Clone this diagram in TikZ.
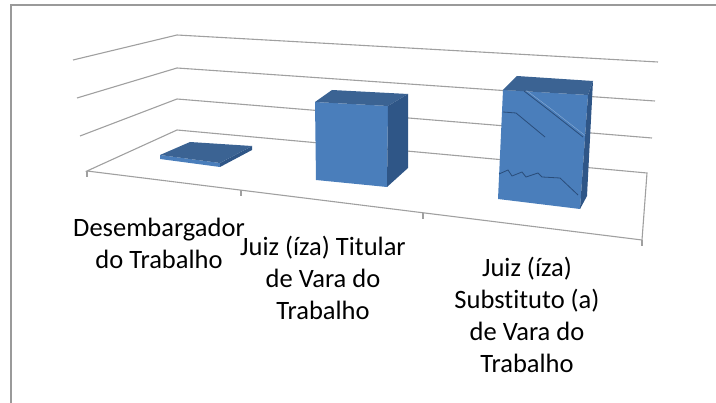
\documentclass[tikz,border=0pt]{standalone}
\usepackage{fontspec}
\setmainfont{Carlito}[Ligatures=NoCommon]
\usepackage{tikz}
\definecolor{gridgray}{HTML}{A0A0A0}
\definecolor{framegray}{HTML}{9A9A9A}
\definecolor{barfront}{HTML}{4A7EBB}
\definecolor{bartop}{HTML}{3B6393}
\definecolor{barside}{HTML}{2F5687}
\definecolor{barseam}{HTML}{2A4D7A}
\tikzset{
gridline/.style={draw=gridgray, line width=1.1pt},
frontface/.style={fill=barfront},
topface/.style={fill=bartop},
sideface/.style={fill=barside},
seam/.style={draw=barseam, line width=0.8pt},
catlabel/.style={align=center, anchor=north, inner sep=0pt,
    font=\fontsize{26.5}{32}\selectfont}}

\begin{document}
\begin{tikzpicture}[x=1pt,y=-1pt]

                \useasboundingbox (0,0) rectangle (716,403);
                \draw[framegray, line width=1.2pt] (11,403) -- (11,5) -- (716,5);

                % walls
                \foreach \sx/\sy/\by/\rx/\ry in {73/60/35/658/62, 77/98/68/655/101, 80/136/99/652/138}
                    \draw[gridline] (\sx,\sy) -- (177,\by) -- (\rx,\ry);

                % floor
                \coordinate (FL) at (87,171);
                \coordinate (BL) at (177,130);
                \coordinate (BR) at (647,173);
                \coordinate (FR) at (642,240);
                \draw[gridline] (FL) -- (BL) -- (BR) -- (FR) -- cycle;
                \foreach \x/\y in {87/171, 241/190, 423/213, 642/240}
                    \draw[gridline] (\x,\y) -- ++(0,6);

                % bar 1
                \coordinate (A1) at (160,155);
                \coordinate (B1) at (190,142);
                \coordinate (C1) at (252,146);
                \coordinate (D1) at (220,163);
                \fill[frontface] (A1) -- (D1) -- ++(0,4) -- ([yshift=-4pt]A1) -- cycle;
                \fill[sideface] (D1) -- (C1) -- ++(0,4) -- ([yshift=-4pt]D1) -- cycle;
                \fill[topface] (A1) -- (B1) -- (C1) -- (D1) -- cycle;

                % bar 2
                \coordinate (A2) at (315,102);
                \coordinate (B2) at (388,106);
                \coordinate (C2) at (387,187);
                \coordinate (D2) at (316,180);
                \fill[frontface] (A2) -- (B2) -- (C2) -- (D2) -- cycle;
                \fill[topface] (A2) -- (332,90) -- (408,94) -- (B2) -- cycle;
                \fill[sideface] (B2) -- (408,94) -- (408,168) -- (C2) -- cycle;

                % bar 3
                \coordinate (A3) at (503,90);
                \coordinate (B3) at (588,95);
                \coordinate (C3) at (580,209);
                \coordinate (D3) at (498,199);
                \fill[frontface] (A3) -- (B3) -- (C3) -- (D3) -- cycle;
                \fill[topface] (A3) -- (517,76) -- (593,81) -- (B3) -- cycle;
                \fill[sideface] (B3) -- (593,81) -- (587,196) -- (C3) -- cycle;
                \draw[seam] (524,91) -- (550,111) -- (583,137);
                \draw[seam, barfront!65!white, line width=0.4pt] (526.5,90.5) -- (552.5,110) -- (585,135.5);
                \draw[seam] (503,112) -- (516,113) -- (545,137);
                \draw[seam] (499,174) -- (508,170) -- (512,176) -- (522,172) -- (526,177)
                    -- (538,173) -- (542,177) -- (560,178) -- (578,195);

                % category labels
                \node[catlabel] (lab1) at (159,218) {Desembargador\\do Trabalho};
                \node[catlabel] (lab2) at (323,236) {Juiz (íza) Titular\\de Vara do\\Trabalho};
                \node[catlabel] (lab3) at (527,257) {Juiz (íza)\\Substituto (a)\\de Vara do\\Trabalho};

\end{tikzpicture}
\end{document}
